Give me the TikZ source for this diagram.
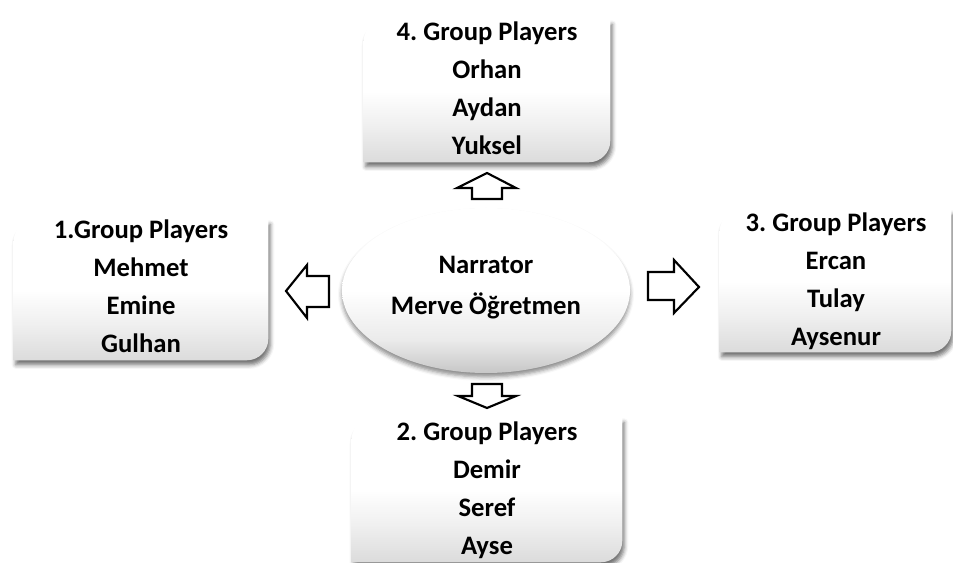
\documentclass[tikz,border=0pt]{standalone}
\usepackage{fontspec}
\setmainfont{Carlito}
\usetikzlibrary{shapes.geometric,shadows.blur}
\pgfdeclareverticalshading{boxshade}{100bp}{color(0bp)=(black!14); color(25bp)=(black!14); color(38bp)=(black!6); color(50bp)=(white); color(100bp)=(white)}
\pgfdeclareverticalshading{ellshade}{100bp}{color(0bp)=(black!22); color(25bp)=(black!22); color(35bp)=(black!8); color(50bp)=(white); color(100bp)=(white)}
\newcommand{\roundbox}[1]{%
  \path[boxframe] (#1.south west) -- ([yshift=-16pt]#1.north west)
    arc[start angle=180,end angle=90,radius=16pt] -- (#1.north east)
    -- ([yshift=16pt]#1.south east) arc[start angle=0,end angle=-90,radius=16pt] -- cycle;}
\begin{document}
\frenchspacing
\begin{tikzpicture}[x=0.75pt,y=0.75pt,
  boxtext/.style={align=center, font=\fontsize{20}{28.5}\selectfont\bfseries, inner sep=0pt},
  boxarea/.style={inner sep=0pt, rectangle},
  boxframe/.style={shading=boxshade, blur shadow={shadow xshift=1.5pt, shadow yshift=-3.5pt, shadow blur radius=3pt, shadow opacity=55}},
  blockarrow/.style={draw=black, fill=white, line width=1.6pt, line join=miter}]
\useasboundingbox (0,0) rectangle (953,563);

% box areas
\node[boxarea, minimum width=190.5pt, minimum height=105pt] (g1) at (141,273) {};
\node[boxarea, minimum width=184.5pt, minimum height=106.5pt] (g4) at (487,472) {};
\node[boxarea, minimum width=173.25pt, minimum height=106.5pt] (g3) at (835.5,282) {};
\node[boxarea, minimum width=202.5pt, minimum height=108pt] (g2) at (487,73) {};

\roundbox{g1}
\roundbox{g4}
\roundbox{g3}
\roundbox{g2}

% narrator ellipse
\node[ellipse, inner sep=0pt, minimum width=216pt, minimum height=123.75pt, shading=ellshade,
  blur shadow={shadow xshift=0pt, shadow yshift=-3pt, shadow blur radius=3pt, shadow opacity=45}] (nar) at (486,272.5) {};
\node[align=center, inner sep=0pt, font=\fontsize{20}{30.75}\selectfont\bfseries] (nart) at (486,275.5) {Narrator\\Merve Öğretmen};

% texts
\node[boxtext] (g1t) at (141,277) {1.Group Players\\Mehmet\\Emine\\Gulhan};
\node[boxtext] (g4t) at (487,474.5) {4. Group Players\\Orhan\\Aydan\\Yuksel};
\node[boxtext] (g3t) at (836,282) {3. Group Players\\Ercan\\Tulay\\Aysenur};
\node[boxtext] (g2t) at (487,73) {2. Group Players\\Demir\\Seref\\Ayse};

% block arrows
\draw[blockarrow] (286,272) -- (307,298) -- (307,287) -- (329,287) -- (329,256) -- (307,256) -- (307,245) -- cycle;
\draw[blockarrow] (699,276) -- (674,303) -- (674,291) -- (648,291) -- (648,263) -- (674,263) -- (674,250) -- cycle;
\draw[blockarrow] (487,390) -- (516,375) -- (502,375) -- (502,364) -- (472,364) -- (472,375) -- (457,375) -- cycle;
\draw[blockarrow] (487,155) -- (516,167) -- (502,167) -- (502,179) -- (472,179) -- (472,167) -- (458,167) -- cycle;
\end{tikzpicture}
\end{document}
